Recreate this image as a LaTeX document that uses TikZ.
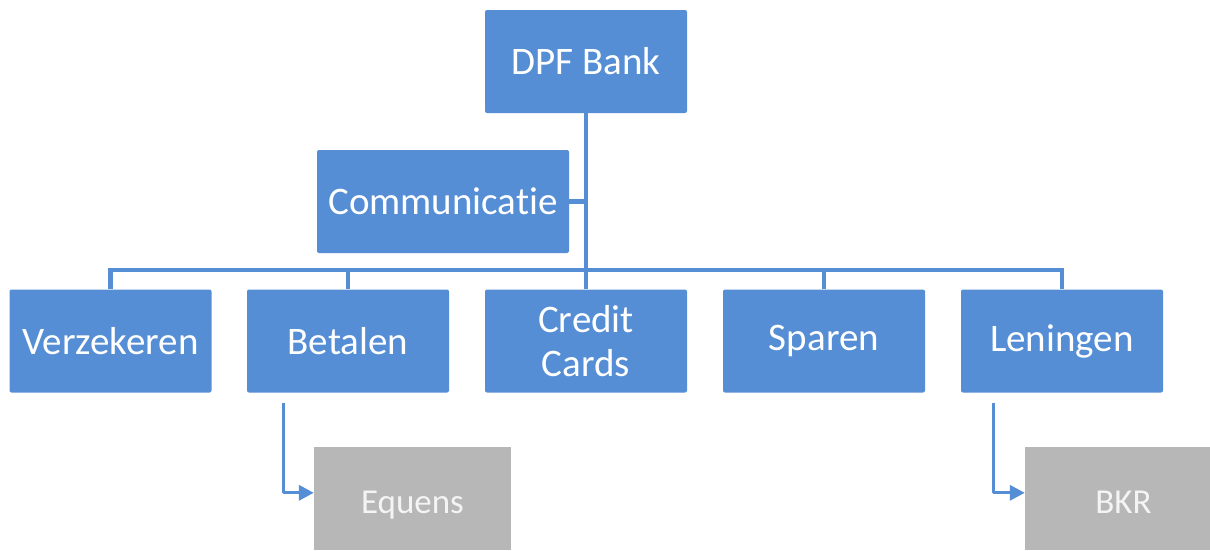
\documentclass[tikz,border=0pt]{standalone}
\usepackage{fontspec}
\setmainfont{Carlito}[RawFeature={-liga;-clig;-dlig}]
\usetikzlibrary{calc,arrows.meta}
\definecolor{boxblue}{HTML}{558ED5}
\definecolor{boxgray}{HTML}{B7B7B7}
\definecolor{graytext}{HTML}{F4F4F4}
\begin{document}
\begin{tikzpicture}[x=1pt,y=-1pt,
  bluebox/.style={fill=boxblue, draw=none, rounded corners=2pt, text=white,
    minimum width=202pt, minimum height=103pt, inner sep=0pt, align=center,
    font=\fontsize{39}{44}\selectfont},
  graybox/.style={fill=boxgray, draw=none, text=graytext,
    minimum width=197pt, minimum height=103pt, inner sep=0pt, align=center,
    text height=29pt, text depth=0pt,
    font=\fontsize{35}{40}\selectfont},
  conn/.style={draw=boxblue, line width=4.7pt},
  arr/.style={draw=boxblue, line width=3.3pt, line join=round,
    -{Triangle[length=15pt,width=15pt]}}]
\clip (0,0) rectangle (1210,550);
\fill[white] (0,0) rectangle (1210,550);
% nodes
\node[bluebox] (dpf) at (586,61.5) {DPF Bank};
\node[bluebox, minimum width=252pt] (comm) at (443,201.5) {Communicat\kern0pt ie};
\node[bluebox] (verz) at (110.5,341) {Verzekeren};
\node[bluebox] (bet) at (348,341) {Betalen};
\node[bluebox] (cc) at (586,341) {Credit\\Cards};
\node[bluebox] (spa) at (824,341) {Sparen};
\node[bluebox] (len) at (1062,341) {Leningen};
\node[graybox] (equ) at (412.5,498.5) {Equens};
\node[graybox] (bkr) at (1123.5,498.5) {BKR};
% bus coordinates
\coordinate (busL) at (verz.north |- 0,270);
\coordinate (busR) at (len.north |- 0,270);
\coordinate (busM) at (dpf.south |- 0,270);
\coordinate (commJ) at (dpf.south |- comm.east);
% connectors
\draw[conn] (dpf.south) -- (busM);
\draw[conn] (comm.east) -- (commJ);
\draw[conn] ([xshift=-2.35pt]busL) -- ([xshift=2.35pt]busR);
\draw[conn] (busL) -- (verz.north);
\draw[conn] (bet.north |- busL) -- (bet.north);
\draw[conn] (busM) -- (cc.north);
\draw[conn] (spa.north |- busL) -- (spa.north);
\draw[conn] (busR) -- (len.north);
% arrows
\coordinate (a1) at ($(bet.south west)+(37,10)$);
\coordinate (a1e) at ($(equ.north west)+(0,46)$);
\draw[arr] (a1) |- (a1e);
\coordinate (a2) at ($(len.south west)+(33,10)$);
\coordinate (a2e) at ($(bkr.north west)+(0,46)$);
\draw[arr] (a2) |- (a2e);
\end{tikzpicture}
\end{document}
